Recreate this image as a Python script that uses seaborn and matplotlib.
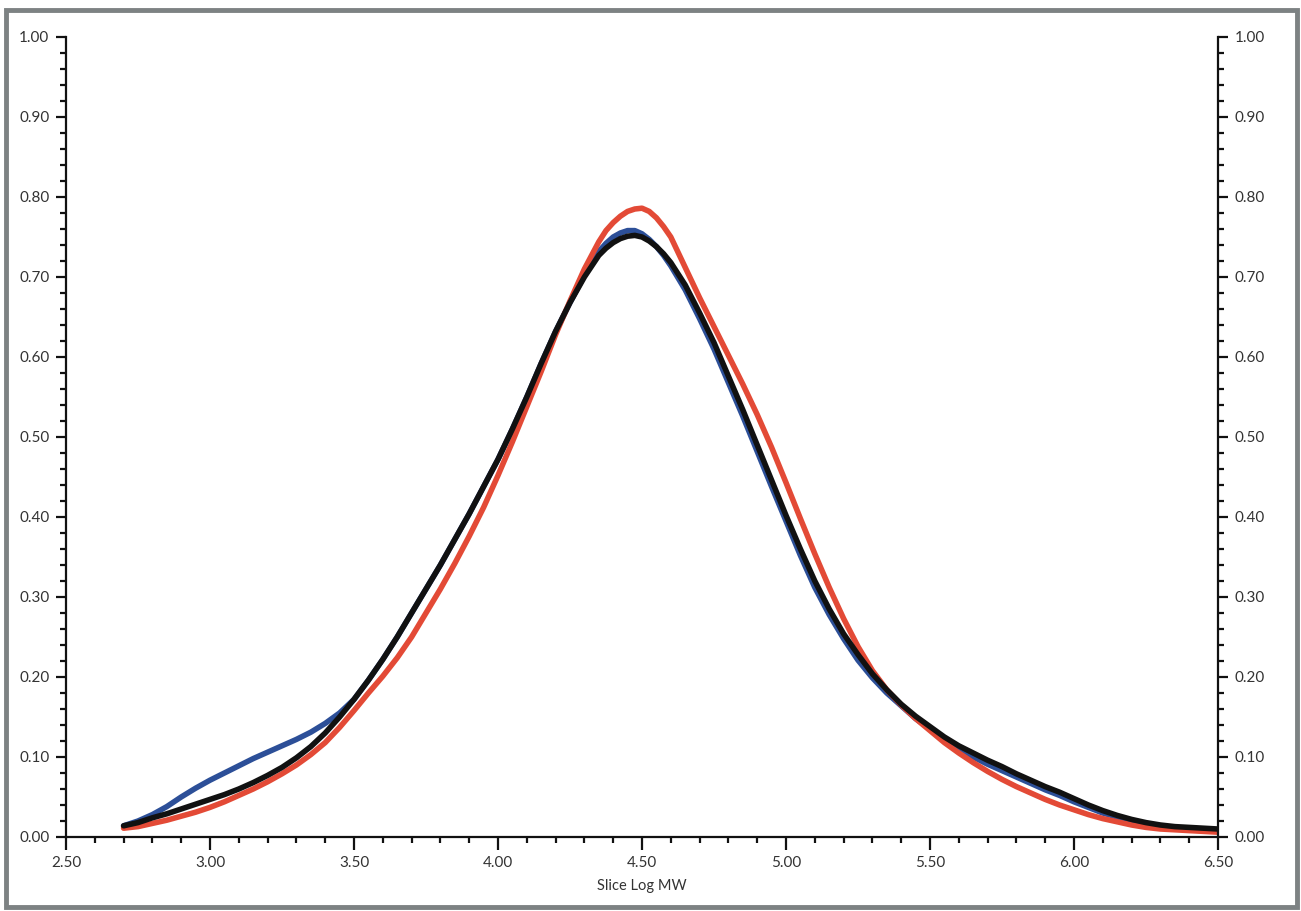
import numpy as np
import pandas as pd
import matplotlib
matplotlib.use("Agg")
import matplotlib.pyplot as plt
import seaborn as sns
from matplotlib.ticker import MultipleLocator, FormatStrFormatter
from matplotlib.patches import Rectangle

# ---- data ----
slice_log_mw = [2.70, 2.75, 2.80, 2.85, 2.90, 2.95, 3.00, 3.05, 3.10, 3.15,
                3.20, 3.25, 3.30, 3.35, 3.40, 3.45, 3.50, 3.55, 3.60, 3.65,
                3.70, 3.75, 3.80, 3.85, 3.90, 3.95, 4.00, 4.05, 4.10, 4.15,
                4.20, 4.25, 4.30, 4.35, 4.375, 4.40, 4.425, 4.45, 4.475, 4.50,
                4.525, 4.55, 4.575, 4.60, 4.65,
                4.70, 4.75, 4.80, 4.85, 4.90, 4.95, 5.00, 5.05, 5.10, 5.15,
                5.20, 5.25, 5.30, 5.35, 5.40, 5.45, 5.50, 5.55, 5.60, 5.65,
                5.70, 5.75, 5.80, 5.85, 5.90, 5.95, 6.00, 6.05, 6.10, 6.15,
                6.20, 6.25, 6.30, 6.35, 6.40, 6.45, 6.50]

black_vals = [0.014, 0.018, 0.024, 0.029, 0.035, 0.041, 0.047, 0.053, 0.060, 0.068,
              0.077, 0.087, 0.099, 0.113, 0.130, 0.150, 0.172, 0.196, 0.222, 0.250,
              0.280, 0.310, 0.340, 0.372, 0.404, 0.438, 0.472, 0.510, 0.550, 0.592,
              0.632, 0.668, 0.700, 0.727, 0.736, 0.743, 0.748, 0.751, 0.752, 0.750,
              0.745, 0.738, 0.729, 0.718, 0.690,
              0.655, 0.618, 0.576, 0.534, 0.490, 0.446, 0.402, 0.360, 0.320, 0.285,
              0.254, 0.228, 0.204, 0.184, 0.166, 0.151, 0.138, 0.125, 0.114, 0.105,
              0.096, 0.088, 0.079, 0.071, 0.063, 0.056, 0.048, 0.040, 0.033, 0.027,
              0.022, 0.018, 0.015, 0.013, 0.012, 0.011, 0.010]

blue_vals = [0.014, 0.020, 0.028, 0.038, 0.050, 0.061, 0.071, 0.080, 0.089, 0.098,
             0.106, 0.114, 0.122, 0.131, 0.142, 0.155, 0.172, 0.196, 0.222, 0.250,
             0.280, 0.310, 0.340, 0.372, 0.404, 0.438, 0.472, 0.510, 0.550, 0.592,
             0.632, 0.668, 0.702, 0.732, 0.742, 0.750, 0.755, 0.758, 0.758, 0.754,
             0.747, 0.738, 0.727, 0.714, 0.684,
             0.648, 0.610, 0.568, 0.526, 0.482, 0.438, 0.395, 0.352, 0.312, 0.278,
             0.248, 0.221, 0.199, 0.180, 0.164, 0.148, 0.135, 0.121, 0.110, 0.100,
             0.091, 0.083, 0.075, 0.067, 0.059, 0.052, 0.044, 0.037, 0.030, 0.025,
             0.020, 0.016, 0.013, 0.011, 0.010, 0.009, 0.009]

red_vals = [0.011, 0.013, 0.017, 0.021, 0.026, 0.031, 0.037, 0.044, 0.052, 0.060,
            0.069, 0.079, 0.090, 0.103, 0.118, 0.137, 0.158, 0.180, 0.201, 0.224,
            0.250, 0.280, 0.310, 0.342, 0.376, 0.412, 0.452, 0.494, 0.538, 0.582,
            0.628, 0.670, 0.710, 0.744, 0.758, 0.768, 0.776, 0.782, 0.785, 0.786,
            0.782, 0.774, 0.763, 0.750, 0.712,
            0.674, 0.638, 0.602, 0.566, 0.528, 0.487, 0.443, 0.398, 0.354, 0.312,
            0.273, 0.238, 0.208, 0.184, 0.165, 0.148, 0.133, 0.118, 0.105, 0.093,
            0.082, 0.072, 0.063, 0.055, 0.047, 0.040, 0.034, 0.028, 0.023, 0.019,
            0.015, 0.012, 0.010, 0.009, 0.008, 0.007, 0.006]

series_names = ["blue", "red", "black"]
series_colors = {"blue": "#2c4f98", "red": "#e34a36", "black": "#111111"}

df = pd.concat([
    pd.DataFrame({"x": slice_log_mw, "y": blue_vals, "series": "blue"}),
    pd.DataFrame({"x": slice_log_mw, "y": red_vals, "series": "red"}),
    pd.DataFrame({"x": slice_log_mw, "y": black_vals, "series": "black"}),
], ignore_index=True)

sns.set_style("ticks")
plt.rcParams["font.family"] = ["Lato", "DejaVu Sans"]

W, H = 1301, 911
fig = plt.figure(figsize=(W / 100, H / 100), dpi=100)
ax = fig.add_axes([66 / W, (H - 837) / H, (1218 - 66) / W, (837 - 37) / H])

for name in series_names:
    sns.lineplot(data=df[df["series"] == name], x="x", y="y", ax=ax,
                 color=series_colors[name], linewidth=4.0, legend=False,
                 estimator=None, sort=False)

ax.set_xlim(2.5, 6.5)
ax.set_ylim(0, 1.0)
ax.xaxis.set_major_locator(MultipleLocator(0.5))
ax.xaxis.set_minor_locator(MultipleLocator(0.1))
ax.yaxis.set_major_locator(MultipleLocator(0.1))
ax.yaxis.set_minor_locator(MultipleLocator(0.02))
ax.xaxis.set_major_formatter(FormatStrFormatter("%.2f"))
ax.yaxis.set_major_formatter(FormatStrFormatter("%.2f"))

ax.set_xlabel("Slice Log MW", fontsize=10.5, color="#333333", labelpad=6)
ax.set_ylabel("")

for side in ["left", "bottom", "right"]:
    ax.spines[side].set_visible(True)
    ax.spines[side].set_linewidth(1.6)
    ax.spines[side].set_color("#111111")
ax.spines["top"].set_visible(False)

ax.yaxis.set_ticks_position("both")
ax.tick_params(axis="y", which="both", labelright=True, labelleft=True)
ax.tick_params(axis="both", which="major", direction="out", length=7,
               width=1.6, color="#111111", labelsize=11, labelcolor="#333333", pad=5)
ax.tick_params(axis="both", which="minor", direction="out", length=4,
               width=1.6, color="#111111")
ax.tick_params(axis="x", which="major", length=9)

# grey frame around the figure
fig.patches.append(Rectangle((6 / W, 4 / H), (1297 - 6) / W, (901 - 4) / H,
                             transform=fig.transFigure, fill=False,
                             edgecolor="#7d8283", linewidth=3.5))

fig.savefig("out.png", dpi=100)
